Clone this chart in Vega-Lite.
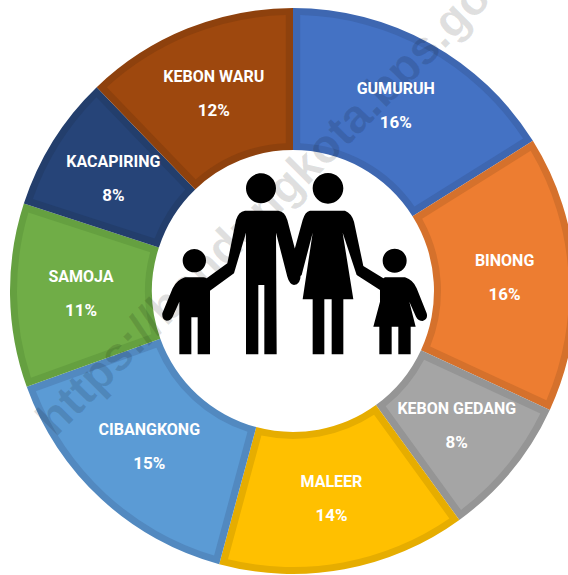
{
"$schema":"https://vega.github.io/schema/vega-lite/v6.json",
"width":550,"height":568,
"autosize":"none",
"padding":{"left":18,"top":7,"right":0,"bottom":0},
"background":"white",
"view":{"stroke":null},
"datasets":{"slices":[
{"order":1,"name":"GUMURUH","value":16.1,"pct":"16%"},
{"order":2,"name":"BINONG","value":15.8,"pct":"16%"},
{"order":3,"name":"KEBON GEDANG","value":8.1,"pct":"8%"},
{"order":4,"name":"MALEER","value":14.2,"pct":"14%"},
{"order":5,"name":"CIBANGKONG","value":15.3,"pct":"15%"},
{"order":6,"name":"SAMOJA","value":10.5,"pct":"11%"},
{"order":7,"name":"KACAPIRING","value":7.8,"pct":"8%"},
{"order":8,"name":"KEBON WARU","value":12.2,"pct":"12%"}
]},
"layer":[
{"data":{"name":"slices"},
 "mark":{"type":"arc","outerRadius":283,"innerRadius":141},
 "encoding":{"theta":{"field":"value","type":"quantitative","stack":true},"order":{"field":"order","type":"quantitative"},
 "color":{"field":"name","type":"nominal","legend":null,"scale":{"domain":["GUMURUH","BINONG","KEBON GEDANG","MALEER","CIBANGKONG","SAMOJA","KACAPIRING","KEBON WARU"],"range":["#3E67B1","#D5712C","#959595","#E6AD00","#5289C0","#65A040","#233E6C","#8E410D"]}}}},
{"data":{"name":"slices"},
 "mark":{"type":"arc","outerRadius":276,"innerRadius":148,"padAngle":0.046},
 "encoding":{"theta":{"field":"value","type":"quantitative","stack":true},"order":{"field":"order","type":"quantitative"},
 "color":{"field":"name","type":"nominal","legend":null,"scale":{"domain":["GUMURUH","BINONG","KEBON GEDANG","MALEER","CIBANGKONG","SAMOJA","KACAPIRING","KEBON WARU"],"range":["#4472C4","#ED7D31","#A5A5A5","#FFC000","#5B9BD5","#70AD47","#264478","#9E480E"]}}},
 "resolve":{"scale":{"color":"independent"}}},
{"data":{"values":[{"site":"https://bandungkota.bps.go.id"}]},
 "mark":{"type":"text","angle":315,"font":"Liberation Sans","fontWeight":"bold","fontSize":47,"align":"center","baseline":"middle","fill":"#000000","fillOpacity":0.12,"dx":65,"dy":-78},
 "encoding":{"text":{"field":"site","type":"nominal"}}},
{"data":{"values":[{"icon":"family"}]},
 "mark":{"type":"point","filled":true,"fill":"#000000","stroke":null,"opacity":1,"size":0.4444,"shape":"M-144,-241 L-44,-241 Q-24,-238 -17,-213 L21,-68 Q29,-21 3,-18 Q-11,-21 -17,-43 L-51,-175 L-49,190 L-86,190 L-86,-18 L-104,-18 L-104,190 L-141,190 L-141,-175 L-177,-53 L-249,-1 L-259,-38 L-197,-83 L-171,-213 Q-164,-238 -144,-241 Z M-324,-41 Q-349,-33 -361,-8 L-392,67 Q-394,85 -379,89 Q-367,89 -361,77 L-341,32 L-341,190 L-305,190 L-305,79 L-286,79 L-286,190 L-249,190 L-249,-1 L-259,-38 Q-264,-41 -269,-41 Z M51,-241 L156,-241 Q176,-233 183,-208 L211,-75 L271,-38 L261,-3 L191,-48 L149,-175 L181,25 L151,25 L151,190 L116,190 L116,25 L94,25 L94,190 L59,190 L59,25 L29,25 L59,-175 L26,-48 L6,-31 L-4,-93 L29,-213 Q36,-238 51,-241 Z M276,-41 L336,-41 Q361,-33 371,-8 L401,67 Q406,85 389,90 Q376,90 369,77 L349,32 L368,107 L353,107 L353,190 L316,190 L316,107 L296,107 L296,190 L259,190 L259,107 L241,107 L261,32 L261,-3 L271,-38 Z M-141,-308 a45,45 0 1 0 90,0 a45,45 0 1 0 -90,0 Z M59,-308 a46,46 0 1 0 92,0 a46,46 0 1 0 -92,0 Z M-331,-91 a35,35 0 1 0 70,0 a35,35 0 1 0 -70,0 Z M269,-91 a36,36 0 1 0 72,0 a36,36 0 1 0 -72,0 Z"},
 "encoding":{"detail":{"field":"icon","type":"nominal"}}},
{"data":{"name":"slices"},
 "mark":{"type":"text","radius":212,"dy":-17,"font":"Roboto","fontWeight":"bold","fontSize":16,"fill":"#FFFFFF"},
 "encoding":{"theta":{"field":"value","type":"quantitative","stack":true},"order":{"field":"order","type":"quantitative"},"text":{"field":"name","type":"nominal"}}},
{"data":{"name":"slices"},
 "mark":{"type":"text","radius":212,"dy":17,"font":"Roboto","fontWeight":"bold","fontSize":17,"fill":"#FFFFFF"},
 "encoding":{"theta":{"field":"value","type":"quantitative","stack":true},"order":{"field":"order","type":"quantitative"},"text":{"field":"pct","type":"nominal"}}}
],
"resolve":{"scale":{"color":"independent","theta":"shared"}}
}
